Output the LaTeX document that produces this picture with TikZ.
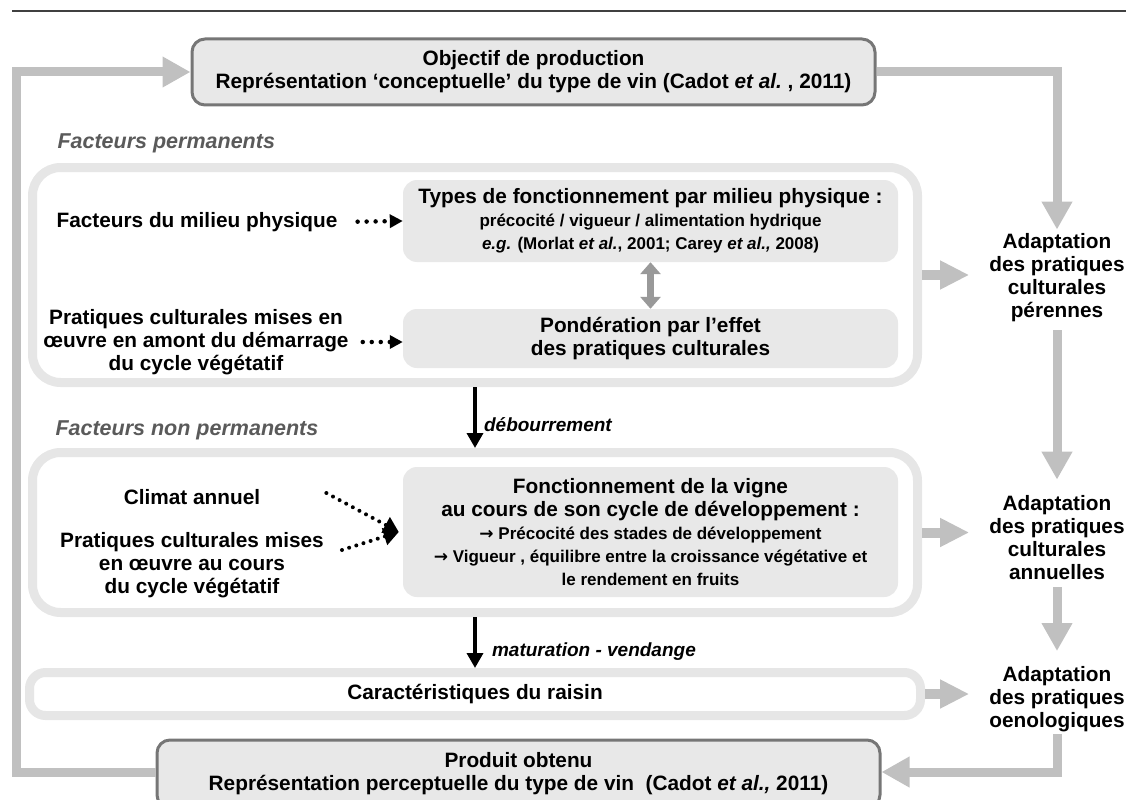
\documentclass[tikz,border=0pt]{standalone}
\usepackage{fontspec}
\setmainfont{Liberation Sans}
\newfontfamily\arrowfont{DejaVu Sans}
\usepackage{xcolor}
\definecolor{boxgray}{RGB}{232,232,232}
\definecolor{bandgray}{RGB}{230,230,230}
\definecolor{framegray}{RGB}{118,118,118}
\definecolor{flowgray}{RGB}{192,192,192}
\definecolor{titlegray}{RGB}{90,90,90}
\definecolor{rulegray}{RGB}{64,64,64}
\usepackage{tikz}
\usetikzlibrary{arrows.meta}
\newcommand{\bigtxt}{\fontsize{20.8}{23}\selectfont\bfseries}
\newcommand{\smalltxt}{\fontsize{17}{20}\selectfont\bfseries}
\newcommand{\etal}{\textit{et al.}}
\tikzstyle{mainbox} = [draw=framegray, line width=3pt, fill=boxgray,
  rounded corners=13pt, align=center, font=\bigtxt]
\tikzstyle{band} = [draw=bandgray, line width=9pt, fill=white,
  rounded corners=28pt]
\tikzstyle{innerbox} = [fill=boxgray, rounded corners=14pt,
  align=center, font=\bigtxt]
\tikzstyle{plain} = [align=center, font=\bigtxt, inner sep=0pt]

\begin{document}
\begin{tikzpicture}[x=1pt, y=-1pt,
  flow/.style={draw=flowgray, line width=9pt,
    -{Triangle[length=28pt, width=29pt]}},
  sideflow/.style={draw=flowgray, line width=10pt,
    -{Triangle[length=29pt, width=27pt]}},
  dots/.style={draw=black, line width=4.5pt, line cap=round,
    dash pattern=on 0pt off 9pt, -{Triangle[length=13pt, width=13pt]}},
  slantdots/.style={draw=black, line width=4pt, line cap=round,
    dash pattern=on 0pt off 7.5pt, -{Triangle[length=15pt, width=17pt]}},
  stage/.style={draw=black, line width=3.5pt,
    -{Triangle[length=15pt, width=16pt]}},
  section/.style={anchor=west, text=titlegray,
    font=\fontsize{21.5}{24}\selectfont\bfseries\itshape}]
  \useasboundingbox (0,0) rectangle (1136,800);
  \draw[rulegray, line width=1.5pt] (12,11) -- (1126,11);
  % objectif
  \node[mainbox, minimum width=683pt, minimum height=66pt] (topbox)
    at (533.5,72) {Objectif de production\\
    Représentation ‘conceptuelle’ du type de vin (Cadot \etal\ , 2011)};
  % facteurs permanents
  \node[section] (permtitle) at (54,143) {Facteurs permanents};
  \node[band, minimum width=885pt, minimum height=215pt] (permbox)
    at (475,275) {};
  \node[innerbox, minimum width=495pt, minimum height=82pt] (types)
    at (650.5,221) {Types de fonctionnement par milieu physique :\\
    \smalltxt précocité / vigueur / alimentation hydrique\\
    \smalltxt \textit{e.g.} (Morlat \etal, 2001; Carey \textit{et al.,} 2008)};
  \node[innerbox, minimum width=495pt, minimum height=59pt] (ponder)
    at (650.5,338.5) {Pondération par l’effet\\ des pratiques culturales};
  \node[plain] (milieu) at (197,222) {Facteurs du milieu physique};
  \node[plain] (amont) at (196,342) {Pratiques culturales mises en\\
    œuvre en amont du démarrage\\ du cycle végétatif};
  \draw[dots, shorten <=20pt] (milieu.east) -- (types.west);
  \draw[dots, shorten <=14pt] (amont.east) -- (amont.east -| ponder.west);
  \draw[draw=black!40, line width=7pt,
    {Triangle[length=12pt, width=20pt]}-{Triangle[length=12pt, width=20pt]}]
    (types.south) -- (ponder.north);
  % facteurs non permanents
  \node[section] (nonpermtitle) at (52,430) {Facteurs non permanents};
  \node[band, minimum width=885pt, minimum height=160pt] (nonpermbox)
    at (475,532.5) {};
  \node[innerbox, minimum width=495pt, minimum height=130pt] (fonct)
    at (650.5,532) {Fonctionnement de la vigne\\
    au cours de son cycle de développement :\\
    \smalltxt {\arrowfont →} Précocité des stades de développement\\
    \smalltxt {\arrowfont →} Vigueur , équilibre entre la croissance végétative et\\
    \smalltxt le rendement en fruits};
  \node[plain] (climat) at (192,497) {Climat annuel};
  \node[plain] (cours) at (192,565) {Pratiques culturales mises\\
    en œuvre au cours\\ du cycle végétatif};
  \draw[slantdots] ([xshift=66pt, yshift=4pt]climat.east)
    -- ([xshift=-4pt]fonct.west);
  \draw[slantdots] ([xshift=18pt, yshift=15pt]cours.east)
    -- ([xshift=-4pt]fonct.west);
  % stades
  \draw[stage] (permbox.south) -- (nonpermbox.north)
    node[pos=0.62, anchor=west, xshift=4pt,
      font=\fontsize{19}{22}\selectfont\bfseries\itshape] (debour)
      {débourrement};
  \node[band, rounded corners=16pt, minimum width=891pt,
    minimum height=43pt] (caract) at (475,694) {};
  \node[plain] at (caract) {Caractéristiques du raisin};
  \draw[stage] (nonpermbox.south) -- (caract.north)
    node[pos=0.68, anchor=west, xshift=12pt,
      font=\fontsize{19}{22}\selectfont\bfseries\itshape] (matur)
      {maturation - vendange};
  % produit
  \node[mainbox, minimum width=723pt, minimum height=68pt] (botbox)
    at (518.5,774) {Produit obtenu\\
    Représentation perceptuelle du type de vin~ (Cadot \textit{et al.,} 2011)};
  % adaptations
  \node[plain] (adaptper) at (1057,278)
    {Adaptation\\ des pratiques\\ culturales\\ pérennes};
  \node[plain] (adaptann) at (1057,538)
    {Adaptation\\ des pratiques\\ culturales\\ annuelles};
  \node[plain] (adaptoen) at (1057,699)
    {Adaptation\\ des pratiques\\ oenologiques};
  \draw[flow, shorten >=4pt] (topbox.east) -| (adaptper.north);
  \draw[flow, shorten <=8pt, shorten >=16pt] (adaptper.south)
    -- (adaptann.north);
  \draw[flow, shorten <=7pt, shorten >=15pt] (adaptann.south)
    -- (adaptoen.north);
  \draw[flow, shorten <=2pt] (adaptoen.south)
    |- ([yshift=2pt]botbox.east);
  \draw[sideflow, shorten >=20pt] (permbox.east)
    -- (permbox.east -| adaptper.west);
  \draw[sideflow, shorten >=20pt] (nonpermbox.east)
    -- (nonpermbox.east -| adaptann.west);
  \draw[sideflow, shorten >=20pt] (caract.east)
    -- (caract.east -| adaptoen.west);
  % retour
  \coordinate (loopleft) at (16,400);
  \draw[flow] ([yshift=2pt]botbox.west) -| (loopleft) |- (topbox.west);
\end{tikzpicture}
\end{document}
